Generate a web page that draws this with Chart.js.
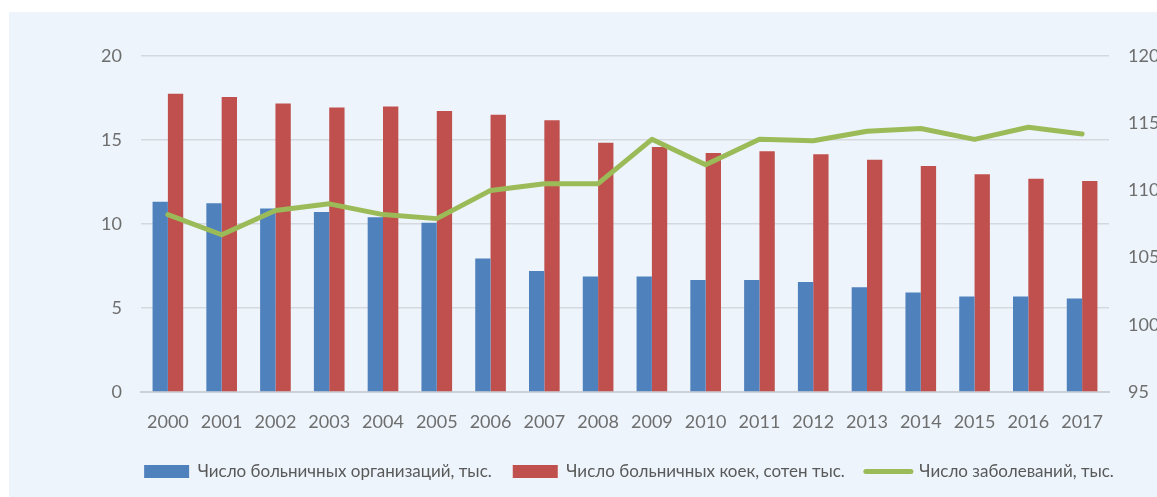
<!DOCTYPE html>
<html lang="ru">
<head>
    <meta charset="UTF-8">
    <title>Больничные организации, койки и заболевания</title>
    <script src="https://cdn.jsdelivr.net/npm/chart.js"></script>
    <style>
        html, body {
          margin: 0;
          padding: 0;
          background: #ffffff;
          overflow: hidden;
        }

        .chartBox {
          position: absolute;
          left: 9px;
          top: 12px;
          width: 1148px;
          height: 485px;
          background-color: #EDF4FB;
        }
    </style>
</head>
<body>
    <div class="chartBox">
        <canvas id="hospitalChart"></canvas>
    </div>
    <script>
        // Data
        const years = ['2000', '2001', '2002', '2003', '2004', '2005', '2006', '2007', '2008',
                       '2009', '2010', '2011', '2012', '2013', '2014', '2015', '2016', '2017'];

        // Число больничных организаций, тыс.
        const hospitals = [11.33, 11.23, 10.93, 10.71, 10.40, 10.08, 7.94, 7.20, 6.87,
                           6.87, 6.67, 6.67, 6.55, 6.23, 5.93, 5.69, 5.69, 5.57];

        // Число больничных коек, сотен тыс.
        const beds = [17.76, 17.56, 17.18, 16.94, 17.00, 16.73, 16.51, 16.17, 14.84,
                      14.58, 14.23, 14.33, 14.15, 13.83, 13.45, 12.96, 12.70, 12.56];

        // Число заболеваний, тыс. (right axis)
        const diseases = [108.2, 106.7, 108.5, 109.0, 108.2, 107.9, 110.0, 110.5, 110.5,
                          113.8, 111.9, 113.8, 113.7, 114.4, 114.6, 113.8, 114.7, 114.2];

        const labelHospitals = 'Число больничных организаций, тыс.';
        const labelBeds = 'Число больничных коек, сотен тыс.';
        const labelDiseases = 'Число заболеваний, тыс.';

        const blue = '#4F81BD';
        const red = '#C0504D';
        const green = '#9BBB59';
        const tickColor = '#6E6E6E';

        const ctx = document.getElementById('hospitalChart').getContext('2d');
        new Chart(ctx, {
            data: {
                labels: years,
                datasets: [
                    {
                        type: 'line',
                        label: labelDiseases,
                        data: diseases,
                        yAxisID: 'y2',
                        borderColor: green,
                        backgroundColor: green,
                        borderWidth: 5,
                        pointRadius: 0,
                        borderCapStyle: 'round',
                        borderJoinStyle: 'round',
                        tension: 0,
                        order: 0
                    },
                    {
                        type: 'bar',
                        label: labelHospitals,
                        data: hospitals,
                        yAxisID: 'y',
                        backgroundColor: blue,
                        categoryPercentage: 0.57,
                        barPercentage: 1.0,
                        order: 1
                    },
                    {
                        type: 'bar',
                        label: labelBeds,
                        data: beds,
                        yAxisID: 'y',
                        backgroundColor: red,
                        categoryPercentage: 0.57,
                        barPercentage: 1.0,
                        order: 1
                    }
                ]
            },
            options: {
                responsive: true,
                maintainAspectRatio: false,
                animation: false,
                layout: {
                    // left padding shifts the centred legend to where it sits in the original
                    padding: { left: 92, top: 44, right: 0, bottom: 7 }
                },
                plugins: {
                    tooltip: { enabled: false },
                    legend: {
                        position: 'bottom',
                        labels: {
                            usePointStyle: true,
                            pointStyleWidth: 45,
                            boxHeight: 13,
                            padding: 21,
                            color: '#595959',
                            font: { family: 'Lato', size: 17 },
                            // bars first, then the line, as in the reference
                            generateLabels: function (chart) {
                                const order = [1, 2, 0];
                                return order.map(function (i) {
                                    const ds = chart.data.datasets[i];
                                    const isLine = ds.type === 'line';
                                    return {
                                        text: ds.label,
                                        datasetIndex: i,
                                        fillStyle: ds.backgroundColor,
                                        strokeStyle: isLine ? ds.borderColor : ds.backgroundColor,
                                        lineWidth: isLine ? 5 : 0,
                                        lineCap: 'round',
                                        pointStyle: isLine ? 'line' : 'rect',
                                        fontColor: '#595959',
                                        hidden: false
                                    };
                                });
                            }
                        }
                    }
                },
                scales: {
                    x: {
                        grid: { display: false, drawTicks: false },
                        border: { display: true, color: '#CDD1D6', width: 2 },
                        ticks: {
                            color: tickColor,
                            padding: 19,
                            maxRotation: 0,
                            font: { family: 'Lato', size: 18 }
                        },
                        afterFit: function (scale) { scale.height = 50; }
                    },
                    y: {
                        position: 'left',
                        min: 0,
                        max: 20,
                        ticks: {
                            stepSize: 5,
                            color: tickColor,
                            padding: 19,
                            font: { family: 'Lato', size: 18 }
                        },
                        grid: { color: '#D5D9DD', lineWidth: 1.5, drawTicks: false },
                        border: { display: false },
                        afterFit: function (scale) { scale.width = 40; }
                    },
                    y2: {
                        position: 'right',
                        min: 95,
                        max: 120,
                        ticks: {
                            stepSize: 5,
                            color: tickColor,
                            padding: 19,
                            font: { family: 'Lato', size: 18 }
                        },
                        grid: { display: false, drawTicks: false },
                        border: { display: false },
                        afterFit: function (scale) { scale.width = 48; }
                    }
                }
            }
        });
    </script>
</body>
</html>
